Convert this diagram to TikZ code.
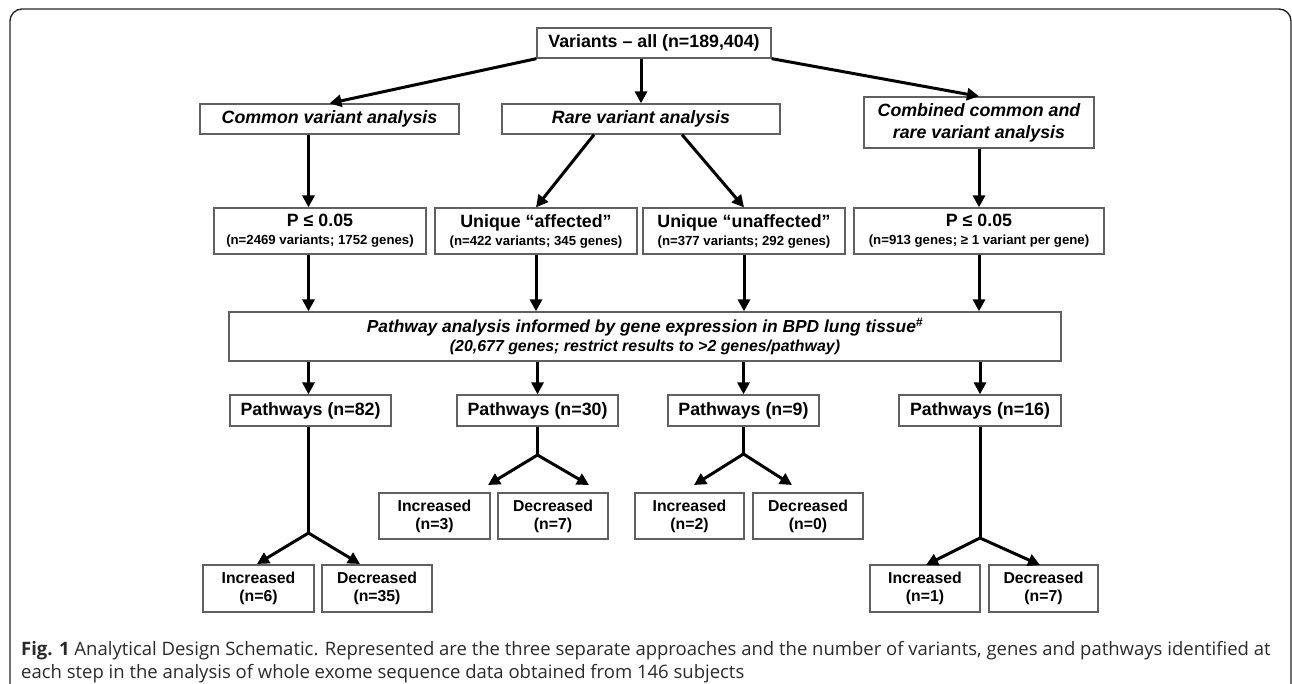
\documentclass[tikz,border=0pt]{standalone}
\usepackage{fontspec}
\setmainfont{Liberation Sans}
\newfontfamily\capfont{Open Sans}
\usetikzlibrary{arrows.meta}
\definecolor{boxgray}{HTML}{606060}
\definecolor{capgray}{HTML}{2A2A2A}
\begin{document}
\begin{tikzpicture}[x=1pt,y=-1pt,
  box/.style={draw=boxgray, line width=1.3pt, fill=white, inner sep=0pt, align=center,
    text=black, font=\fontsize{17.8pt}{21pt}\selectfont\bfseries},
  ibox/.style={box, font=\fontsize{17.8pt}{22pt}\selectfont\bfseries\itshape},
  twobox/.style={box, font=\fontsize{13.2pt}{18pt}\selectfont\bfseries},
  smallbox/.style={box, font=\fontsize{15.8pt}{18pt}\selectfont\bfseries},
  arr/.style={line width=3pt, draw=black, -{Triangle[length=12pt,width=12pt]}},
  plain/.style={line width=3pt, draw=black}]
\useasboundingbox (0,0) rectangle (1292,683);
% frame
\draw[line width=1.4pt, black!85, rounded corners=12pt] (10,684) -- (10,9) -- (1291,9) -- (1291,684);

% column coordinates
\coordinate (c1) at (308.5,0);
\coordinate (ra) at (594,0);
\coordinate (rb) at (682,0);

% top level
\node[box, minimum width=234pt, minimum height=30pt] (var) at (654,43) {Variants -- all (n=189,404)};
\node[ibox, minimum width=259pt, minimum height=30pt] (common) at (329.5,119) {Common variant analysis};
\node[ibox, minimum width=278pt, minimum height=30pt] (rare) at (641,119) {Rare variant analysis};
\node[ibox, minimum width=230pt, minimum height=51pt] (combined) at (979,122.5) {Combined common and\\rare variant analysis};

% second level
\node[twobox, minimum width=212pt, minimum height=46pt] (p1) at (320,231)
  {{\fontsize{17.8pt}{18pt}\selectfont P ≤ 0.05}\\(n=2469 variants; 1752 genes)};
\node[twobox, minimum width=202pt, minimum height=46pt] (aff) at (536,231)
  {{\fontsize{17.8pt}{18pt}\selectfont Unique “affected”}\\(n=422 variants; 345 genes)};
\node[twobox, minimum width=202pt, minimum height=46pt] (unaff) at (744,231)
  {{\fontsize{17.8pt}{18pt}\selectfont Unique “unaffected”}\\(n=377 variants; 292 genes)};
\node[twobox, minimum width=250pt, minimum height=46pt] (p4) at (979,231)
  {{\fontsize{17.8pt}{18pt}\selectfont P ≤ 0.05}\\(n=913 genes; ≥ 1 variant per gene)};

% pathway analysis
\node[box, minimum width=832pt, minimum height=49pt, font=\fontsize{15.9pt}{19pt}\selectfont\bfseries\itshape] (pathway) at (645,336.5)
  {{\fontsize{17.4pt}{19pt}\selectfont Pathway analysis informed by gene expression in BPD lung tissue\textsuperscript{\#}}\\(20,677 genes; restrict results to >2 genes/pathway)};

% pathways
\node[box, minimum width=161pt, minimum height=31pt] (pw82) at (310.5,410.5) {Pathways (n=82)};
\node[box, minimum width=161pt, minimum height=31pt] (pw30) at (537.5,410.5) {Pathways (n=30)};
\node[box, minimum width=151pt, minimum height=31pt] (pw9) at (743.5,410.5) {Pathways (n=9)};
\node[box, minimum width=162pt, minimum height=31pt] (pw16) at (980,410.5) {Pathways (n=16)};

% leaves
\node[smallbox, minimum width=111pt, minimum height=47pt] (inc6) at (258.5,588.5) {Increased\\(n=6)};
\node[smallbox, minimum width=110pt, minimum height=47pt] (dec35) at (377,588.5) {Decreased\\(n=35)};
\node[smallbox, minimum width=111pt, minimum height=46pt] (inc3) at (434.5,516) {Increased\\(n=3)};
\node[smallbox, minimum width=110pt, minimum height=46pt] (dec7) at (553,516) {Decreased\\(n=7)};
\node[smallbox, minimum width=109pt, minimum height=46pt] (inc2) at (689.5,516) {Increased\\(n=2)};
\node[smallbox, minimum width=110pt, minimum height=46pt] (dec0) at (808,516) {Decreased\\(n=0)};
\node[smallbox, minimum width=110pt, minimum height=47pt] (inc1) at (925,588.5) {Increased\\(n=1)};
\node[smallbox, minimum width=109pt, minimum height=47pt] (dec7b) at (1043.5,588.5) {Decreased\\(n=7)};

% arrows level 1
\draw[arr] (var.south west) -- (common.north);
\draw[arr] (var.south -| rare.north) -- (rare.north);
\draw[arr] (var.south east) -- (combined.north);
% level 2
\draw[arr] (common.south -| c1) -- (p1.north -| c1);
\draw[arr] (rare.south -| ra) -- (aff.north);
\draw[arr] (rare.south -| rb) -- (unaff.north);
\draw[arr] (combined.south) -- (p4.north);
% into pathway
\draw[arr] (p1.south -| c1) -- (pathway.north -| c1);
\draw[arr] (aff.south) -- (pathway.north -| aff.south);
\draw[arr] (unaff.south) -- (pathway.north -| unaff.south);
\draw[arr] (p4.south) -- (pathway.north -| p4.south);
% out of pathway
\draw[arr] (pathway.south -| c1) -- (pw82.north -| c1);
\draw[arr] (pathway.south -| pw30.north) -- (pw30.north);
\draw[arr] (pathway.south -| pw9.north) -- (pw9.north);
\draw[arr] (pathway.south -| pw16.north) -- (pw16.north);

% forks
\coordinate (f82) at (308.5,533);
\coordinate (t82a) at (257,564);
\coordinate (t82b) at (360,564);
\draw[plain] (pw82.south -| f82) -- (f82);
\draw[arr] (f82) -- (t82a);
\draw[arr] (f82) -- (t82b);

\coordinate (f30) at (537.5,455);
\coordinate (t30a) at (488,485);
\coordinate (t30b) at (589,485);
\draw[plain] (pw30.south) -- (f30);
\draw[arr] (f30) -- (t30a);
\draw[arr] (f30) -- (t30b);

\coordinate (f9) at (743.5,454);
\coordinate (t9a) at (694,485);
\coordinate (t9b) at (792,485);
\draw[plain] (pw9.south) -- (f9);
\draw[arr] (f9) -- (t9a);
\draw[arr] (f9) -- (t9b);

\coordinate (f16) at (980,538);
\coordinate (t16a) at (926,565);
\coordinate (t16b) at (1040,565);
\draw[plain] (pw16.south) -- (f16);
\draw[arr] (f16) -- (t16a);
\draw[arr] (f16) -- (t16b);

% caption
\node[anchor=base west, inner sep=0pt, text=capgray, font=\capfont\fontsize{18.5pt}{22pt}\selectfont] (cap1) at (21,655)
  {\textbf{Fig. 1} Analytical Design Schematic. Represented are the three separate approaches and the number of variants, genes and pathways identified at};
\node[anchor=base west, inner sep=0pt, text=capgray, font=\capfont\fontsize{18.5pt}{22pt}\selectfont] (cap2) at (21,678)
  {each step in the analysis of whole exome sequence data obtained from 146 subjects};
\end{tikzpicture}
\end{document}
